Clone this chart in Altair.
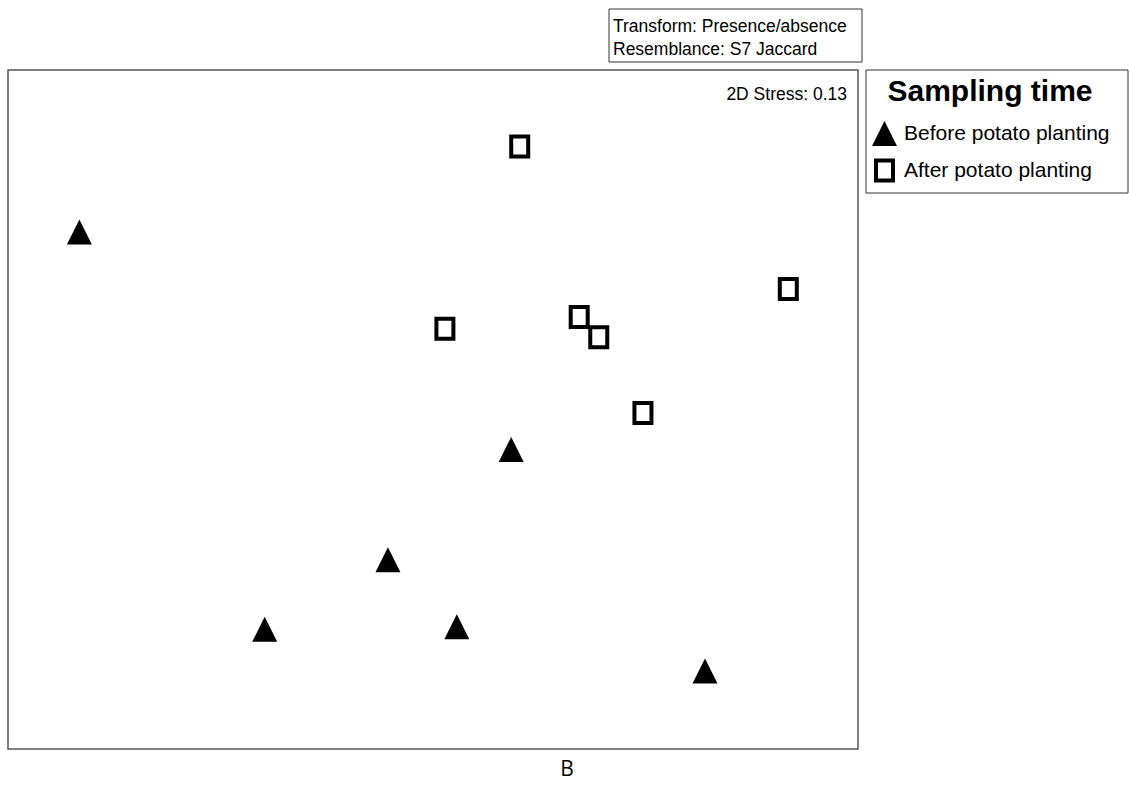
import altair as alt
import pandas as pd

# NMDS ordination coordinates (arbitrary units)
groups = ["Before potato planting"] * 6 + ["After potato planting"] * 6
nmds1 = [8.4, 59.2, 44.7, 30.2, 52.8, 82.0,
         60.2, 51.4, 67.2, 69.5, 74.7, 91.8]
nmds2 = [60.9, 35.3, 22.3, 14.1, 14.4, 9.2,
         71.0, 49.5, 50.9, 48.5, 39.6, 54.2]
group_order = ["Before potato planting", "After potato planting"]

df = pd.DataFrame({"x": nmds1, "y": nmds2, "Sampling time": groups})

FONT = "Liberation Sans"
W, H = 850, 679

tri = "M0,-1L1,1L-1,1Z"
sq = "M-0.68,-0.8H0.68V0.8H-0.68Z"

leg = alt.Legend(title="Sampling time", orient="none", legendX=862, legendY=7)

points = alt.Chart(df).mark_point(
    filled=True, size=625, opacity=1
).encode(
    x=alt.X("x:Q", axis=None, scale=alt.Scale(domain=[0, 100], nice=False, zero=False)),
    y=alt.Y("y:Q", axis=None, scale=alt.Scale(domain=[0, 80], nice=False, zero=False)),
    shape=alt.Shape("Sampling time:N", sort=group_order,
                    scale=alt.Scale(domain=group_order, range=[tri, sq]), legend=leg),
    fill=alt.Fill("Sampling time:N", sort=group_order,
                  scale=alt.Scale(domain=group_order, range=["black", "white"]), legend=leg),
    stroke=alt.Stroke("Sampling time:N", sort=group_order,
                      scale=alt.Scale(domain=group_order, range=["black", "black"]), legend=leg),
    strokeWidth=alt.StrokeWidth("Sampling time:N", sort=group_order,
                                scale=alt.Scale(domain=group_order, range=[0, 4]), legend=leg),
)

one = pd.DataFrame({"a": [0]})

legend_box = alt.Chart(one).mark_rect(fill="white", stroke="#333", strokeWidth=1).encode(
    x=alt.value(858), x2=alt.value(1120), y=alt.value(0), y2=alt.value(123)
)

box = alt.Chart(one).mark_rect(fill="white", stroke="#333", strokeWidth=1).encode(
    x=alt.value(601), x2=alt.value(854), y=alt.value(-61), y2=alt.value(-8)
)
box_text1 = alt.Chart(one).mark_text(
    text="Transform: Presence/absence", align="left", baseline="alphabetic",
    font=FONT, fontSize=17.5, color="black"
).encode(x=alt.value(605), y=alt.value(-38))
box_text2 = alt.Chart(one).mark_text(
    text="Resemblance: S7 Jaccard", align="left", baseline="alphabetic",
    font=FONT, fontSize=17.5, color="black"
).encode(x=alt.value(605), y=alt.value(-15))

stress = alt.Chart(one).mark_text(
    text="2D Stress: 0.13", align="right", baseline="alphabetic",
    font=FONT, fontSize=17.5, color="black"
).encode(x=alt.value(839), y=alt.value(30))

label_b = alt.Chart(one).mark_text(
    text="B", align="center", baseline="alphabetic",
    font="Open Sans", fontSize=21, color="black"
).encode(x=alt.value(559), y=alt.value(706))

chart = alt.layer(legend_box, points, box, box_text1, box_text2, stress, label_b).properties(
    width=W, height=H,
    autosize=alt.AutoSizeParams(type="none"),
    padding={"left": 8, "top": 70, "right": 271, "bottom": 38},
).configure_view(
    stroke="#555", strokeWidth=1.5
).configure_legend(
    padding=0, cornerRadius=0,
    titleFont=FONT, titleFontSize=30, titleFontWeight="bold", titleColor="black",
    titleAnchor="middle", titlePadding=14, titleLimit=0,
    labelFont=FONT, labelFontSize=21, labelColor="black", labelLimit=0,
    symbolSize=625, symbolOffset=0, labelOffset=5, rowPadding=6,
)

chart.save("out.html", embed_options={"renderer": "svg", "actions": False})
